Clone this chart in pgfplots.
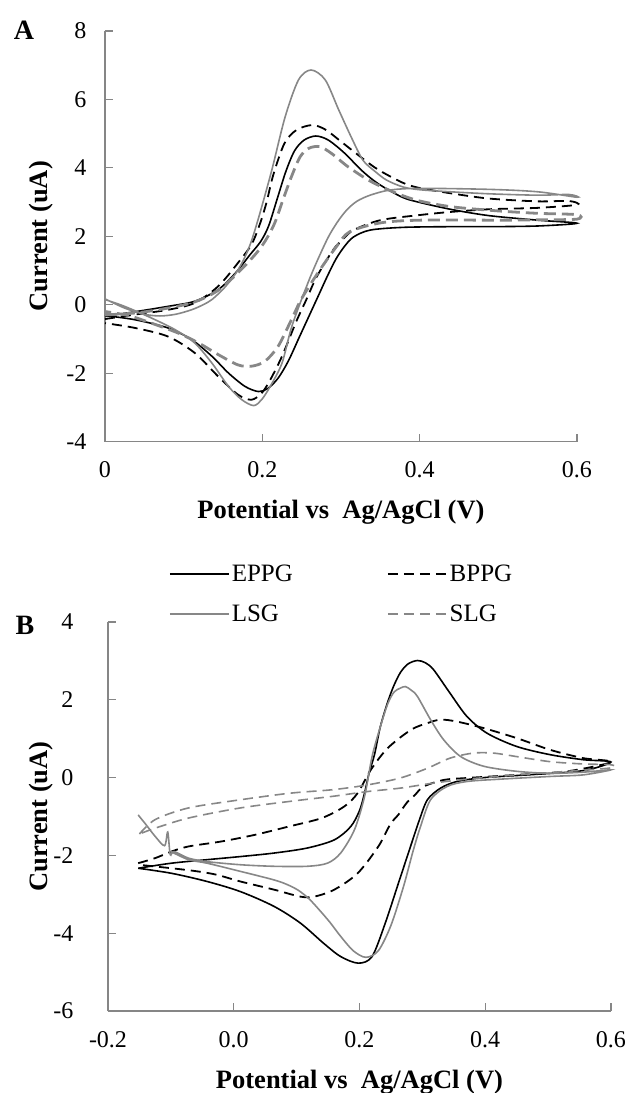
\documentclass[border=0pt]{standalone}
\usepackage{fontspec}
\setmainfont{Liberation Serif}
\usepackage{pgfplots}
\pgfplotsset{compat=1.18}

\definecolor{axgray}{RGB}{134,134,134}
\definecolor{cvgray}{RGB}{135,135,135}

\pgfplotsset{
  cv/.style={
    scale only axis,
    axis x line*=bottom, axis y line*=left,
    axis line style={draw=axgray, line width=1.1pt},
    tick style={draw=axgray, line width=1.1pt},
    tick align=inside, major tick length=8pt,
    tick label style={font=\fontsize{24}{28}\selectfont},
    xticklabel style={yshift=-17pt},
    yticklabel style={xshift=-15pt},
    label style={font=\bfseries\fontsize{26.5}{30}\selectfont},
    clip=false,
  },
  eppg/.style={black, line width=1.6pt, smooth},
  bppg/.style={black, line width=1.8pt, dash pattern=on 10pt off 6pt, smooth},
  lsg/.style={cvgray, line width=1.6pt, smooth},
  slgA/.style={cvgray, line width=2.8pt, dash pattern=on 12pt off 6pt, smooth},
  slgB/.style={cvgray, line width=1.6pt, dash pattern=on 10pt off 6pt, smooth},
}

\begin{document}
\begin{tikzpicture}
\useasboundingbox (-105pt,-651.5pt) rectangle (520pt,441.5pt);

% ---- panel A ----
\begin{axis}[cv,
  at={(0pt,0pt)}, anchor=south west,
  width=472pt, height=410.5pt,
  xmin=0, xmax=0.6, ymin=-4, ymax=8,
  xtick={0,0.2,0.4,0.6}, xticklabels={0,0.2,0.4,0.6},
  ytick={-4,-2,0,2,4,6,8}, yticklabels={-4,-2,0,2,4,6,8},
  xlabel={Potential vs~ Ag/AgCl (V)},
  ylabel={Current (uA)},
  xlabel style={at={(axis description cs:0.5,-0.1717)}, anchor=center},
  ylabel style={at={(axis description cs:-0.1356,0.5)}, anchor=center},
]
\addplot[eppg] coordinates {
 (0,-0.34) (0.04,-0.2) (0.08,-0.05) (0.114,0.1) (0.144,0.44) (0.166,0.93)
 (0.184,1.45) (0.198,1.85) (0.208,2.3) (0.219,3.1) (0.23,3.9) (0.241,4.5)
 (0.253,4.81) (0.268,4.93) (0.284,4.81) (0.305,4.42) (0.326,3.93) (0.347,3.54)
 (0.377,3.15) (0.398,3.0) (0.441,2.78) (0.489,2.6) (0.55,2.47) (0.6,2.38)
 (0.55,2.3) (0.489,2.28) (0.439,2.28) (0.379,2.26) (0.337,2.18) (0.316,1.98)
 (0.305,1.72) (0.294,1.35) (0.283,0.85) (0.272,0.3) (0.26,-0.3) (0.247,-0.95)
 (0.233,-1.65) (0.22,-2.15) (0.207,-2.45) (0.195,-2.54) (0.178,-2.39)
 (0.157,-2.0) (0.136,-1.51) (0.11,-1.02) (0.08,-0.68) (0.038,-0.44) (0,-0.32)
};
\addplot[bppg] coordinates {
 (0,-0.42) (0.038,-0.29) (0.08,-0.15) (0.114,0.05) (0.144,0.54) (0.169,1.22)
 (0.186,1.75) (0.196,2.3) (0.205,2.96) (0.214,3.8) (0.228,4.71) (0.243,5.1)
 (0.263,5.25) (0.28,5.12) (0.301,4.75) (0.326,4.3) (0.347,3.95) (0.377,3.58)
 (0.398,3.42) (0.441,3.25) (0.489,3.1) (0.55,3.02) (0.59,3.03) (0.6,2.92)
 (0.55,2.83) (0.489,2.79) (0.439,2.71) (0.4,2.62) (0.35,2.47) (0.316,2.18)
 (0.302,1.9) (0.29,1.6) (0.269,0.81) (0.256,0.15) (0.243,-0.5)
 (0.225,-1.51) (0.21,-2.2) (0.199,-2.59) (0.186,-2.78) (0.169,-2.63)
 (0.144,-2.1) (0.114,-1.41) (0.08,-0.93) (0.038,-0.68) (0,-0.54)
};
\addplot[lsg] coordinates {
 (0,0.17) (0.025,-0.1) (0.05,-0.28) (0.07,-0.33) (0.09,-0.28) (0.11,-0.15)
 (0.125,0.0) (0.136,0.15) (0.15,0.45) (0.161,0.75) (0.17,1.05) (0.178,1.4)
 (0.186,1.85) (0.196,2.6) (0.212,3.93) (0.229,5.49) (0.246,6.57) (0.262,6.86)
 (0.28,6.57) (0.297,5.7) (0.314,4.85) (0.328,4.22) (0.343,3.9) (0.358,3.64)
 (0.379,3.44) (0.4,3.36) (0.439,3.3) (0.489,3.24) (0.55,3.2) (0.59,3.22) (0.6,3.14)
 (0.55,3.3) (0.489,3.37) (0.4,3.4) (0.362,3.35) (0.337,3.2) (0.32,3.02)
 (0.307,2.76) (0.295,2.4) (0.282,1.89) (0.261,0.81) (0.238,-0.6)
 (0.225,-1.71) (0.21,-2.39) (0.199,-2.78)
 (0.189,-2.95) (0.174,-2.78) (0.157,-2.39) (0.136,-1.71) (0.114,-1.12)
 (0.089,-0.73) (0.059,-0.39) (0.025,-0.05) (0,0.15)
};
\addplot[slgA] coordinates {
 (0,-0.3) (0.04,-0.24) (0.08,-0.1) (0.114,0.08) (0.144,0.42) (0.172,1.0)
 (0.194,1.55) (0.206,1.95) (0.216,2.4) (0.226,3.05) (0.237,3.74) (0.248,4.32)
 (0.259,4.57) (0.273,4.62) (0.288,4.42) (0.309,4.03) (0.335,3.64) (0.356,3.4)
 (0.377,3.2) (0.4,3.03) (0.441,2.86) (0.5,2.74) (0.55,2.67) (0.6,2.63)
 (0.6,2.5) (0.55,2.48) (0.5,2.47) (0.4,2.47) (0.35,2.39) (0.311,2.13)
 (0.294,1.69) (0.273,1.01) (0.25,0.18) (0.237,-0.44) (0.22,-1.22)
 (0.203,-1.66) (0.186,-1.8) (0.169,-1.76)
 (0.144,-1.46) (0.119,-1.12) (0.093,-0.83) (0.059,-0.54) (0.03,-0.32) (0,-0.2)
};
\node[font=\bfseries\fontsize{28}{32}\selectfont] at (axis description cs:-0.1716,1.0024) {A};
\end{axis}

% ---- panel B ----
\begin{axis}[cv,
  at={(3pt,-569.5pt)}, anchor=south west,
  width=503pt, height=389pt,
  xmin=-0.2, xmax=0.6, ymin=-6, ymax=4,
  xtick={-0.2,0,0.2,0.4,0.6}, xticklabels={-0.2,0.0,0.2,0.4,0.6},
  ytick={-6,-4,-2,0,2,4}, yticklabels={-6,-4,-2,0,2,4},
  yticklabel style={xshift=-16pt},
  xlabel={Potential vs~ Ag/AgCl (V)},
  ylabel={Current (uA)},
  xlabel style={at={(axis description cs:0.5,-0.1825)}, anchor=center},
  ylabel style={at={(axis description cs:-0.1332,0.5)}, anchor=center},
  legend columns=2,
  legend cell align=left,
  legend image code/.code={\draw[#1] (0pt,0pt) -- (59pt,0pt);},
  legend style={at={(axis description cs:0.1153,1.1568)}, anchor=north west,
    draw=none, fill=none, font=\fontsize{25}{29}\selectfont,
    row sep=18pt, nodes={inner sep=2pt},
    /tikz/every even column/.append style={column sep=92pt}},
]
\addplot[eppg] coordinates {
 (-0.152,-2.33) (-0.099,-2.2) (-0.0425,-2.11) (0.0105,-2.03) (0.064,-1.94)
 (0.117,-1.81) (0.16,-1.6) (0.186,-1.26) (0.2,-0.85) (0.208,-0.4) (0.215,0.1)
 (0.224,0.6) (0.233,1.3) (0.244,1.9) (0.254,2.34) (0.265,2.7) (0.277,2.92)
 (0.292,3.01) (0.305,2.95) (0.318,2.77) (0.344,2.17) (0.371,1.57) (0.403,1.14)
 (0.45,0.8) (0.503,0.59) (0.556,0.46) (0.6,0.4)
 (0.556,0.18) (0.477,0.08) (0.398,0.0) (0.355,-0.1) (0.329,-0.27) (0.308,-0.57)
 (0.295,-1.1) (0.283,-1.68) (0.262,-2.71) (0.241,-3.74) (0.22,-4.6)
 (0.198,-4.77) (0.17,-4.6) (0.143,-4.26) (0.106,-3.74) (0.064,-3.31)
 (0.0105,-2.93) (-0.0425,-2.67) (-0.099,-2.46) (-0.152,-2.33)
};
\addlegendentry{EPPG}
\addplot[bppg] coordinates {
 (-0.152,-2.2) (-0.125,-2.07) (-0.099,-1.9) (-0.072,-1.77) (-0.019,-1.64)
 (0.034,-1.47) (0.087,-1.26) (0.14,-1.04) (0.176,-0.74) (0.197,-0.4)
 (0.218,0.2) (0.245,0.76) (0.282,1.23) (0.308,1.4) (0.329,1.49) (0.355,1.44)
 (0.398,1.27) (0.451,1.01) (0.504,0.71) (0.556,0.5) (0.6,0.4)
 (0.53,0.16) (0.451,0.07) (0.371,-0.01) (0.334,-0.06) (0.302,-0.23)
 (0.288,-0.45) (0.275,-0.65) (0.262,-0.95) (0.249,-1.2) (0.23,-1.77)
 (0.197,-2.46) (0.16,-2.88) (0.128,-3.06) (0.106,-3.06) (0.064,-2.88)
 (0.0105,-2.67) (-0.0265,-2.5) (-0.058,-2.41) (-0.099,-2.33) (-0.152,-2.24)
};
\addlegendentry{BPPG}
\addplot[lsg] coordinates {
 (-0.152,-0.96) (-0.14,-1.2) (-0.125,-1.51) (-0.11,-1.75) (-0.105,-1.4)
 (-0.101,-1.98) (-0.095,-1.9) (-0.072,-2.07)
 (-0.0425,-2.16) (0.0105,-2.24) (0.064,-2.28) (0.117,-2.28) (0.149,-2.2)
 (0.17,-1.94) (0.192,-1.34) (0.208,-0.49) (0.22,0.54) (0.233,1.3)
 (0.245,1.9) (0.255,2.2) (0.265,2.3) (0.273,2.34) (0.282,2.25) (0.292,2.09)
 (0.313,1.49) (0.334,0.97) (0.361,0.54) (0.398,0.29) (0.451,0.16)
 (0.504,0.11) (0.556,0.14) (0.6,0.2)
 (0.556,0.07) (0.504,0.03) (0.424,-0.04) (0.371,-0.1) (0.339,-0.23)
 (0.313,-0.57) (0.297,-1.26) (0.285,-1.9) (0.27,-2.8) (0.25,-3.8)
 (0.23,-4.45) (0.21,-4.62) (0.19,-4.45) (0.17,-4.08) (0.153,-3.72)
 (0.136,-3.4) (0.12,-3.12) (0.103,-2.9) (0.085,-2.75) (0.064,-2.63)
 (0.0105,-2.41) (-0.0425,-2.2) (-0.072,-2.11) (-0.1,-1.9)
};
\addlegendentry{LSG}
\addplot[slgB] coordinates {
 (-0.15,-1.45) (-0.125,-1.08) (-0.072,-0.78) (0.0105,-0.57) (0.09,-0.4)
 (0.158,-0.31) (0.212,-0.19) (0.265,-0.01) (0.308,0.24) (0.344,0.5)
 (0.381,0.63) (0.413,0.63) (0.45,0.54) (0.503,0.41) (0.556,0.35) (0.6,0.33)
 (0.6,0.25) (0.53,0.16) (0.451,0.07) (0.371,-0.04) (0.318,-0.14)
 (0.265,-0.27) (0.212,-0.36) (0.158,-0.48) (0.09,-0.61) (0.0105,-0.78)
 (-0.072,-1.04) (-0.125,-1.3) (-0.15,-1.45)
};
\addlegendentry{SLG}
\node[font=\bfseries\fontsize{28}{32}\selectfont] at (axis description cs:-0.165,0.992) {B};
\end{axis}
\end{tikzpicture}
\end{document}
